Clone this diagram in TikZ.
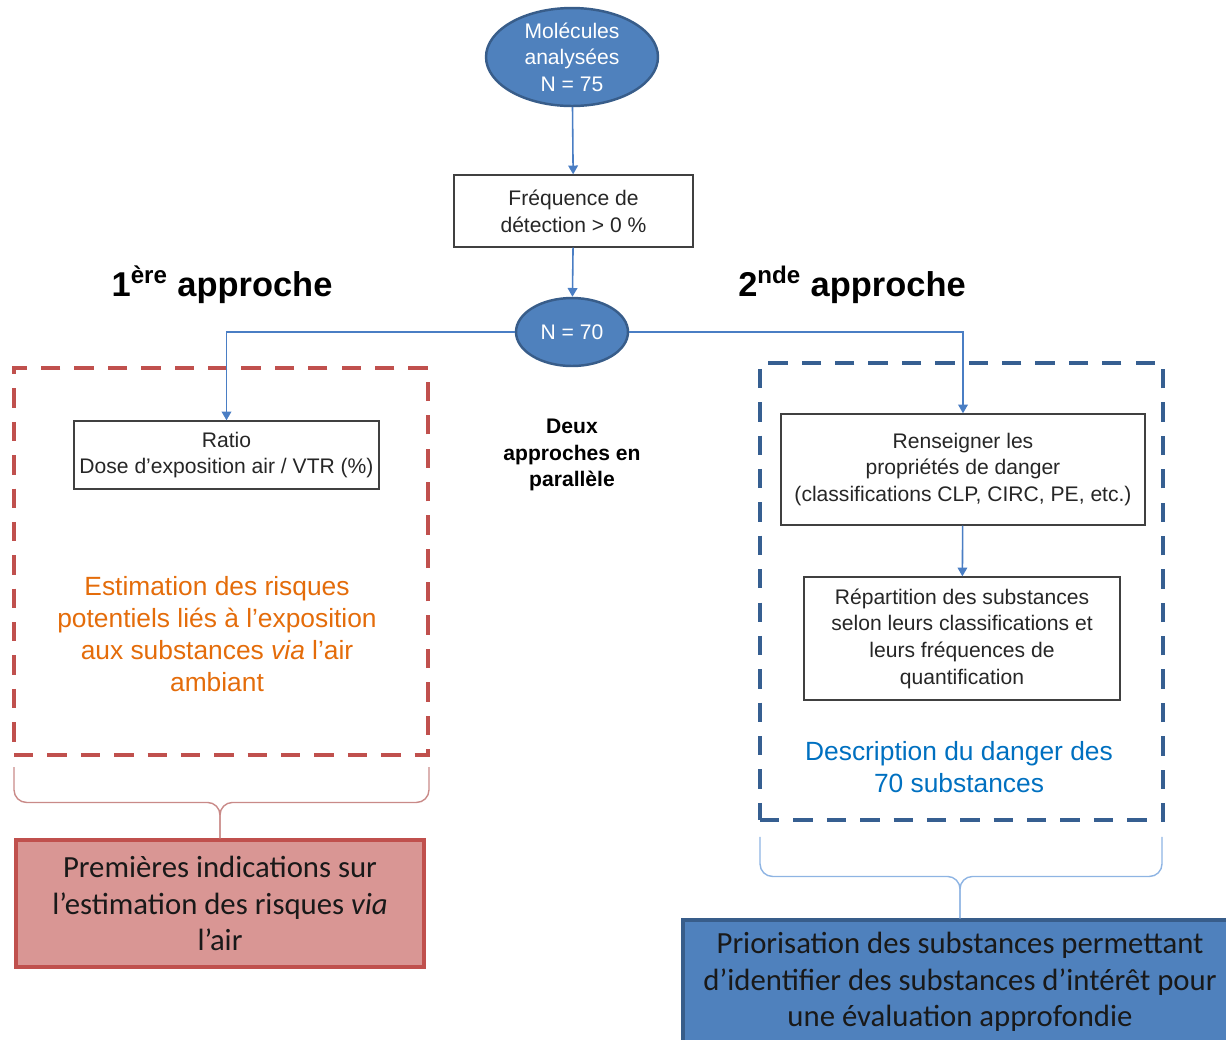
\documentclass[tikz,border=0pt]{standalone}
\usepackage{fontspec}
\setmainfont{Liberation Sans}
\newfontfamily\carlito{Carlito}
\usetikzlibrary{arrows.meta, shapes.geometric, calc, positioning}
\definecolor{ellblue}{HTML}{4F81BD}
\definecolor{ellline}{HTML}{385D8A}
\definecolor{linkblue}{HTML}{4A7EC4}
\definecolor{zonered}{HTML}{C0504D}
\definecolor{zoneblue}{HTML}{365F91}
\definecolor{boxred}{HTML}{D99694}
\definecolor{txtorange}{HTML}{E46C0A}
\definecolor{txtblue}{HTML}{0070C0}
\definecolor{bracered}{HTML}{C98A88}
\definecolor{braceblue}{HTML}{8EB4E3}
\tikzset{
  % blue arrow between steps
  barr/.style={draw=linkblue, line width=0.9pt, -{Triangle[width=5.5pt,length=5pt]}},
  % blue ellipses
  ell/.style={ellipse, draw=ellline, fill=ellblue, line width=1.4pt, text=white,
    align=center, inner sep=0pt, font=\fontsize{12}{15}\selectfont},
  % gray step boxes
  gbox/.style={draw=black!75, line width=0.8pt, align=center, inner sep=0pt,
    text=black!85, font=\fontsize{12}{15.2}\selectfont},
  % dashed zones
  zone/.style={draw, line width=2.3pt, dash pattern=on 11pt off 8pt, inner sep=0pt},
  % result boxes at the bottom
  res/.style={draw, line width=1.8pt, inner sep=0pt, text=black!90,
    font=\carlito\fontsize{17.5}{20.8}\selectfont},
  % curly braces (office style)
  brc/.style={line width=0.8pt, rounded corners=0.25cm},
}
\begin{document}
\begin{tikzpicture}[x=0.02cm, y=-0.02cm]
  \useasboundingbox (0,0) rectangle (1226,1039);
  \clip (0,0) rectangle (1226,1039);

  % zones
  \node[zone, draw=zonered, minimum width=8.28cm, minimum height=7.74cm] (redzone) at (221,561.5) {};
  \node[zone, draw=zoneblue, minimum width=8.06cm, minimum height=9.14cm] (bluezone) at (961.5,591.5) {};

  % main flow
  \node[ell, minimum width=3.44cm, minimum height=1.96cm] (mol) at (572,57) {Molécules\\analysées\\N = 75};
  \node[gbox, minimum width=4.78cm, minimum height=1.44cm] (freq) at (573.5,211) {Fréquence de\\détection > 0 \%};
  \node[ell, minimum width=2.24cm, minimum height=1.36cm] (n70) at (572,332) {N = 70};

  \node[font=\bfseries\fontsize{19.6}{24}\selectfont] (app1) at (222,285) {1\textsuperscript{ère} approche};
  \node[font=\bfseries\fontsize{19.6}{24}\selectfont] (app2) at (852,285) {2\textsuperscript{nde} approche};
  \node[align=center, font=\bfseries\fontsize{12}{15.2}\selectfont] (deux) at (572,455) {Deux\\approches en\\parallèle};

  % first approach
  \node[gbox, minimum width=6.1cm, minimum height=1.36cm] (ratio) at (226.5,455) {Ratio\\Dose d’exposition air / VTR (\%)};
  \node[align=center, text=txtorange, font=\fontsize{15}{18.3}\selectfont] (estim) at (217,634)
    {Estimation des risques\\potentiels liés à l’exposition\\aux substances \textit{via} l’air\\ambiant};

  % second approach
  \node[gbox, minimum width=7.28cm, minimum height=2.22cm] (rens) at (963,469.5)
    {Renseigner les\\propriétés de danger\\(classifications CLP, CIRC, PE, etc.)};
  \node[gbox, minimum width=6.32cm, minimum height=2.46cm] (repart) at (962,638.5)
    {Répartition des substances\\selon leurs classifications et\\leurs fréquences de\\quantification};
  \node[align=center, text=txtblue, font=\fontsize{15}{18.3}\selectfont] (descr) at (959,767)
    {Description du danger des\\70 substances};

  % results
  \node[res, align=center, draw=zonered, fill=boxred, minimum width=8.16cm, minimum height=2.54cm] (prem) at (220,903.5)
    {Premières indications sur\\l’estimation des risques \textit{via}\\l’air};
  % box runs off the page on the right: text kept centred at x=960
  \node[res, draw=ellline, fill=ellblue, minimum width=12cm, minimum height=2.52cm] (prio) at (983,983)
    {\begin{tabular}{@{}c@{}}Priorisation des substances permettant\\d’identifier des substances d’intérêt pour\\une évaluation approfondie\end{tabular}\rule{0.92cm}{0pt}};

  % connectors
  \draw[barr] (mol) -- (freq);
  \draw[barr] (freq) -- (n70);
  \draw[barr] (n70.west) -| (ratio.north);
  \draw[barr] (n70.east) -| (rens.north);
  \draw[barr] (rens) -- (repart);

  % braces
  \coordinate (lmid) at ($(prem.north)+(0,0.72cm)$);
  \coordinate (rtip) at (prio.north -| 960,0);
  \coordinate (rmid) at ($(rtip)+(0,0.84cm)$);
  \draw[brc, draw=bracered] ([yshift=-0.2cm, xshift=-0.02cm]redzone.south east) |- (lmid) -- (prem.north);
  \draw[brc, draw=bracered] ([yshift=-0.2cm, xshift=0.04cm]redzone.south west) |- (lmid) -- (prem.north);
  \draw[brc, draw=braceblue] ([yshift=-0.3cm, xshift=-0.06cm]bluezone.south east) |- (rmid) -- (rtip);
  \draw[brc, draw=braceblue] ([yshift=-0.3cm, xshift=0.04cm]bluezone.south west) |- (rmid) -- (rtip);
\end{tikzpicture}
\end{document}
